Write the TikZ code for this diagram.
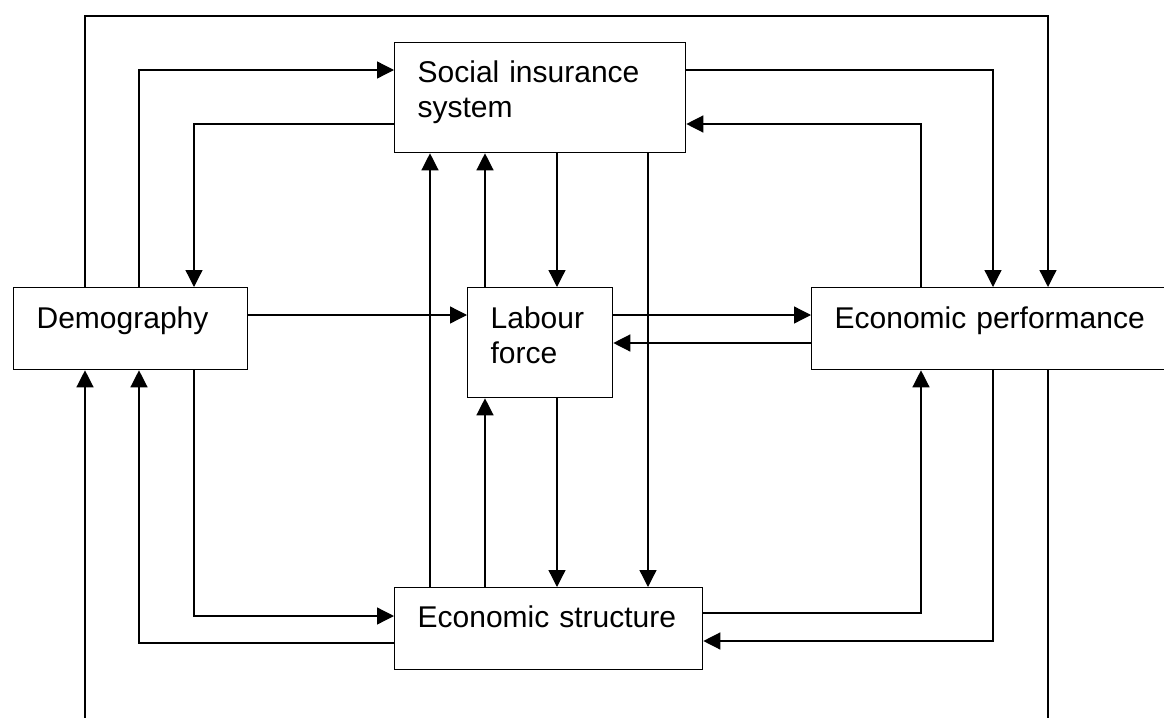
\documentclass[tikz,border=0pt]{standalone}
\usepackage{fontspec}
\setmainfont{Liberation Sans}
\usepackage{tikz}
\usetikzlibrary{positioning,arrows.meta}

\tikzset{
  blk/.style={draw, line width=0.65pt, anchor=north west, inner xsep=11.5pt, inner ysep=0pt,
    align=left, text height=20.5pt, font=\fontsize{15pt}{17.5pt}\selectfont},
  arr/.style={line width=0.65pt, -{Triangle[length=8.5pt,width=8.5pt]}},
  lne/.style={line width=0.65pt}
}

\begin{document}
\begin{tikzpicture}[x=0.5pt,y=-0.5pt]
    \clip (0,0) rectangle (1164,718);
    % the five blocks
    \node[blk, text width=94pt, text depth=20.5pt] (dem) at (13,287) {Demography};
    \node[blk, text width=122.5pt, text height=20pt, text depth=35pt] (soc) at (394,42) {Social insurance\\system};
    \node[blk, text width=49.5pt, text depth=34.5pt] (lab) at (467,287) {Labour\\force};
    \node[blk, text width=157pt, text depth=20.5pt] (perf) at (811,287) {Economic performance};
    \node[blk, text width=131pt, text height=20pt, text depth=21pt] (str) at (394,587) {Economic structure};
    \coordinate (inflow) at (85,718);
    \coordinate (outflow) at (1048,718);
    % links round the top
    \draw[arr] (dem.north -| 85,0) -- (85,16) -| (perf.north -| 1048,0);
    \draw[arr] (dem.north -| 139,0) |- (soc.west |- 0,70);
    \draw[arr] (soc.west |- 0,124) -| (dem.north -| 194,0);
    \draw[arr] (soc.east |- 0,70) -| (perf.north -| 993,0);
    \draw[arr] (perf.north -| 921,0) |- (soc.east |- 0,124);
    % middle column
    \draw[arr] (soc.south -| 557,0) -- (lab.north -| 557,0);
    \draw[arr] (lab.north -| 485,0) -- (soc.south -| 485,0);
    \draw[arr] (str.north -| 430,0) -- (soc.south -| 430,0);
    \draw[arr] (soc.south -| 648,0) -- (str.north -| 648,0);
    \draw[arr] (lab.south -| 557,0) -- (str.north -| 557,0);
    \draw[arr] (str.north -| 485,0) -- (lab.south -| 485,0);
    % middle row
    \draw[arr] (dem.east |- 0,315) -- (lab.west |- 0,315);
    \draw[arr] (lab.east |- 0,315) -- (perf.west |- 0,315);
    \draw[arr] (perf.west |- 0,343) -- (lab.east |- 0,343);
    % links round the bottom
    \draw[arr] (dem.south -| 194,0) |- (str.west |- 0,616);
    \draw[arr] (str.west |- 0,643) -| (dem.south -| 139,0);
    \draw[arr] (inflow) -- (dem.south -| inflow);
    \draw[arr] (str.east |- 0,613) -| (perf.south -| 921,0);
    \draw[arr] (perf.south -| 993,0) |- (str.east |- 0,641);
    \draw[lne] (perf.south -| outflow) -- (outflow);
\end{tikzpicture}
\end{document}
